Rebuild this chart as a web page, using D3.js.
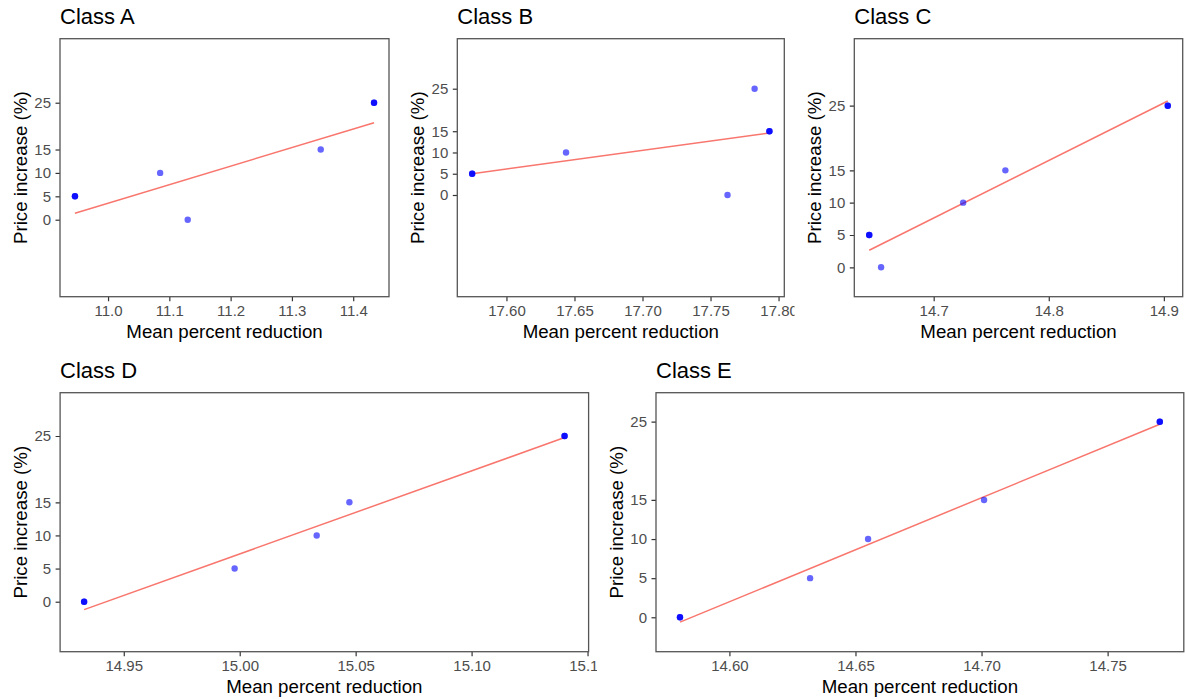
<!DOCTYPE html>
<html>
<head>
<meta charset="utf-8">
<script src="https://cdn.jsdelivr.net/npm/d3@7"></script>
<style>
  html, body { margin: 0; padding: 0; background: #fff; }
  svg { display: block; font-family: "Liberation Sans", Arial, sans-serif; }
</style>
</head>
<body>
<svg id="chart" width="1185" height="699"></svg>
<script>
// Five classes, each with five (mean percent reduction, price increase) pairs
const classes = ["Class A", "Class B", "Class C", "Class D", "Class E"];

const reductionA = [10.946, 11.085, 11.130, 11.347, 11.434];
const increaseA  = [5, 10, 0, 15, 25];
const reductionB = [17.5748, 17.6438, 17.7625, 17.7824, 17.7933];
const increaseB  = [5, 10, 0, 25, 15];
const reductionC = [14.644, 14.6543, 14.7256, 14.7623, 14.9034];
const increaseC  = [5, 0, 10, 15, 25];
const reductionD = [14.9329, 14.9978, 15.0332, 15.0473, 15.1401];
const increaseD  = [0, 5, 10, 15, 25];
const reductionE = [14.5804, 14.632, 14.655, 14.701, 14.7707];
const increaseE  = [0, 5, 10, 15, 25];

// Axis breaks and limits
const yTicks = [0, 5, 10, 15, 25];
const xTicksA = [11.0, 11.1, 11.2, 11.3, 11.4];
const xTicksB = [17.60, 17.65, 17.70, 17.75, 17.80];
const xTicksC = [14.7, 14.8, 14.9];
const xTicksD = [14.95, 15.00, 15.05, 15.10, 15.15];
const xTicksE = [14.60, 14.65, 14.70, 14.75];
const xDigits = [1, 2, 1, 2, 2];
const yLower = [-16.45, -23.92, -4.55, -7.54, -4.40];
const yUpper = [38.68, 36.76, 35.37, 31.53, 28.71];

const reductions = [reductionA, reductionB, reductionC, reductionD, reductionE];
const increases  = [increaseA, increaseB, increaseC, increaseD, increaseE];
const xTickSets  = [xTicksA, xTicksB, xTicksC, xTicksD, xTicksE];

// Panel frames on the page (plot box edges and clipping region)
const frames = [
  { left: 60,    right: 389,    top: 38.7,  bottom: 296.7, clipL: 0,     clipR: 397 },
  { left: 457.3, right: 784.3,  top: 38.7,  bottom: 296.7, clipL: 397,   clipR: 794.5 },
  { left: 854.3, right: 1182.7, top: 38.7,  bottom: 296.7, clipL: 794.5, clipR: 1185 },
  { left: 60.1,  right: 588.6,  top: 392.7, bottom: 651.7, clipL: 0,     clipR: 597 },
  { left: 656,   right: 1183.8, top: 392.7, bottom: 651.7, clipL: 597,   clipR: 1185 }
];

const svg = d3.select("#chart");
const defs = svg.append("defs");

function linearFit(xs, ys) {
  const mx = d3.mean(xs), my = d3.mean(ys);
  let sxy = 0, sxx = 0;
  xs.forEach((x, i) => { sxy += (x - mx) * (ys[i] - my); sxx += (x - mx) * (x - mx); });
  const b = sxy / sxx;
  return x => my + b * (x - mx);
}

classes.forEach((name, k) => {
  const f = frames[k];
  const xs = reductions[k], ys = increases[k];
  const pts = xs.map((x, i) => ({ x, y: ys[i] }));

  const [xmin, xmax] = d3.extent(xs);
  const pad = (xmax - xmin) * 0.05;
  const x = d3.scaleLinear().domain([xmin - pad, xmax + pad]).range([f.left, f.right]);
  const y = d3.scaleLinear().domain([yLower[k], yUpper[k]]).range([f.bottom, f.top]);

  const clipId = "clip" + k;
  defs.append("clipPath").attr("id", clipId)
    .append("rect").attr("x", f.clipL).attr("y", f.top - 40)
    .attr("width", f.clipR - f.clipL).attr("height", f.bottom - f.top + 100);

  const g = svg.append("g").attr("clip-path", `url(#${clipId})`);

  // title
  g.append("text").attr("x", f.left).attr("y", f.top - 14.5)
    .attr("font-size", 22).attr("fill", "#000").text(name);

  // axes
  const fmt = d3.format("." + xDigits[k] + "f");
  const xAxis = g.append("g").attr("transform", `translate(0,${f.bottom})`)
    .call(d3.axisBottom(x).tickValues(xTickSets[k]).tickFormat(fmt).tickSize(4.5).tickPadding(4));
  const yAxis = g.append("g").attr("transform", `translate(${f.left},0)`)
    .call(d3.axisLeft(y).tickValues(yTicks).tickSize(4.5).tickPadding(4.5));
  [xAxis, yAxis].forEach(a => {
    a.select(".domain").remove();
    a.selectAll(".tick line").attr("stroke", "#333").attr("stroke-width", 1.2);
    a.selectAll(".tick text").attr("fill", "#4d4d4d").attr("font-size", 15)
      .attr("font-family", "Liberation Sans, Arial, sans-serif");
  });

  // axis titles
  g.append("text").attr("x", (f.left + f.right) / 2).attr("y", f.bottom + 41.5)
    .attr("text-anchor", "middle").attr("font-size", 18.7).attr("fill", "#000")
    .text("Mean percent reduction");
  g.append("text")
    .attr("transform", `translate(${f.left - 33},${(f.top + f.bottom) / 2}) rotate(-90)`)
    .attr("text-anchor", "middle").attr("font-size", 18.7).attr("fill", "#000")
    .text("Price increase (%)");

  // fitted line across the observed range
  const fit = linearFit(xs, ys);
  g.append("line")
    .attr("x1", x(xmin)).attr("y1", y(fit(xmin)))
    .attr("x2", x(xmax)).attr("y2", y(fit(xmax)))
    .attr("stroke", "#F8766D").attr("stroke-width", 1.5);

  // points
  g.selectAll("circle.pt").data(pts).join("circle").attr("class", "pt")
    .attr("cx", d => x(d.x)).attr("cy", d => y(d.y)).attr("r", 3.2)
    .attr("fill", "blue").attr("fill-opacity", 0.6);
  // range end points drawn again on top
  const ends = pts.filter(d => d.x === xmin || d.x === xmax);
  g.selectAll("circle.end").data(ends).join("circle").attr("class", "end")
    .attr("cx", d => x(d.x)).attr("cy", d => y(d.y)).attr("r", 3.2)
    .attr("fill", "blue").attr("fill-opacity", 0.85);

  // panel border
  g.append("rect").attr("x", f.left).attr("y", f.top)
    .attr("width", f.right - f.left).attr("height", f.bottom - f.top)
    .attr("fill", "none").attr("stroke", "#555").attr("stroke-width", 1.3);
});
</script>
</body>
</html>
